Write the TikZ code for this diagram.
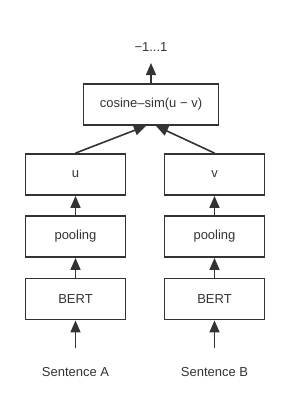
\documentclass[tikz,border=0pt]{standalone}
\usepackage{fontspec}
\setmainfont{Liberation Sans}
\usetikzlibrary{arrows.meta}

\begin{document}
\begin{tikzpicture}[x=1pt,y=-1pt,
  box/.style={draw=black!80,line width=1.8pt,minimum height=41pt,inner sep=0pt,font=\fontsize{13}{15}\selectfont,text=black!80},
  up/.style={-{Triangle[width=10pt,length=12pt]},line width=1.6pt,draw=black!80},
  lbl/.style={font=\fontsize{13}{15}\selectfont,text=black!80}]
\useasboundingbox (0,0) rectangle (290,416);
\node[lbl] (R) at (151,47) {−1...1};
\node[box,minimum width=135pt] (C) at (151,104.5) {cosine–sim(u − v)};
\node[box,minimum width=100pt] (U) at (75.5,174.5) {u};
\node[box,minimum width=100pt] (V) at (214.5,174.5) {v};
\node[box,minimum width=100pt] (PA) at (75.5,236.5) {pooling};
\node[box,minimum width=100pt] (PB) at (214.5,236.5) {pooling};
\node[box,minimum width=100pt] (BA) at (75.5,299) {BERT};
\node[box,minimum width=100pt] (BB) at (214.5,299) {BERT};
\coordinate (IA) at (75.5,348);
\coordinate (IB) at (214.5,348);
\node[lbl] (SA) at (75.5,372) {Sentence A};
\node[lbl] (SB) at (214.5,372) {Sentence B};
\coordinate (T) at (151,63);
\draw[up] (C)--(T);
\draw[up] (U.north)--([xshift=-5pt]C.south);
\draw[up] (V.north)--([xshift=5pt]C.south);
\draw[up] (PA)--(U);
\draw[up] (PB)--(V);
\draw[up] (BA)--(PA);
\draw[up] (BB)--(PB);
\draw[up] (IA)--(BA);
\draw[up] (IB)--(BB);
\end{tikzpicture}
\end{document}
